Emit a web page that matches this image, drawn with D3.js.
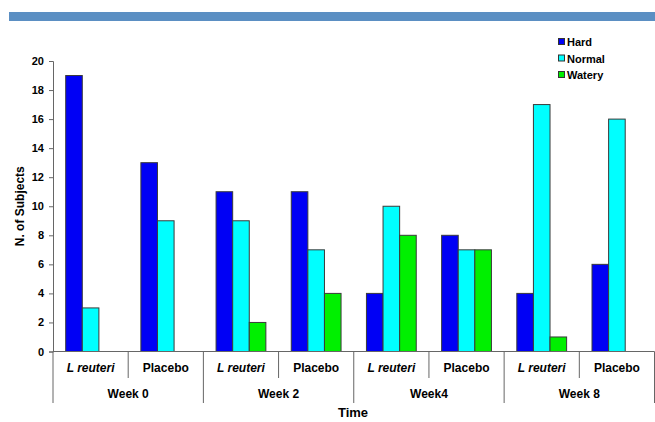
<!DOCTYPE html>
<html>
<head>
<meta charset="utf-8">
<script src="https://cdn.jsdelivr.net/npm/d3@7"></script>
<style>
  html, body { margin: 0; padding: 0; background: #fff; }
  svg { display: block; font-family: "Liberation Sans", Arial, sans-serif; }
</style>
</head>
<body>
<svg id="chart" width="655" height="422"></svg>
<script>
// Stool consistency counts per treatment arm and visit
const weeks = ["Week 0", "Week 2", "Week4", "Week 8"];
const arms = ["L reuteri", "Placebo"];
const series = ["Hard", "Normal", "Watery"];
const colors = ["#0000f5", "#00ffff", "#00f000"];

// One row per (week, arm) in order, values in series order
const hard   = [19, 13, 11, 11, 4, 8, 4, 6];
const normal = [3, 9, 9, 7, 10, 7, 17, 16];
const watery = [0, 0, 2, 4, 8, 7, 1, 0];
const yTicks = [0, 2, 4, 6, 8, 10, 12, 14, 16, 18, 20];

const categories = [];
weeks.forEach(w => arms.forEach(a => categories.push({ week: w, arm: a, key: w + "|" + a })));
const rows = categories.map((c, i) => ({ ...c, values: [hard[i], normal[i], watery[i]] }));

const svg = d3.select("#chart");

// Header band
svg.append("rect").attr("x", 9).attr("y", 12).attr("width", 646).attr("height", 9)
  .attr("fill", "#5b8fc3");

const plotLeft = 53, plotRight = 654.5, plotTop = 61, plotBottom = 351.5;

const x = d3.scaleBand().domain(categories.map(c => c.key)).range([plotLeft, plotRight]).paddingInner(0).paddingOuter(0);
const xs = d3.scaleBand().domain(series).range([0, x.bandwidth()]).paddingInner(0).paddingOuter(0.765);
const y = d3.scaleLinear().domain([0, 20]).range([plotBottom, plotTop]);

// Bars
const g = svg.append("g");
rows.forEach(r => {
  const grp = g.append("g").attr("transform", `translate(${x(r.key)},0)`);
  grp.selectAll("rect")
    .data(r.values.map((v, i) => ({ v, s: series[i], c: colors[i] })).filter(d => d.v > 0))
    .join("rect")
    .attr("x", d => xs(d.s))
    .attr("y", d => y(d.v))
    .attr("width", xs.bandwidth())
    .attr("height", d => y(0) - y(d.v))
    .attr("fill", d => d.c)
    .attr("stroke", "#3a3a3a")
    .attr("stroke-width", 1);
});

// Y axis
const yAxis = d3.axisLeft(y).tickValues(yTicks).tickSize(4).tickPadding(5);
const ya = svg.append("g").attr("transform", `translate(${plotLeft},0)`).call(yAxis);
ya.select(".domain").attr("stroke", "#666");
ya.selectAll(".tick line").attr("stroke", "#666");
ya.selectAll(".tick text").attr("font-size", 11).attr("font-weight", "bold").attr("fill", "#000")
  .attr("font-family", "Liberation Sans, Arial, sans-serif");

svg.append("text")
  .attr("transform", `translate(24,${(plotTop + plotBottom) / 2}) rotate(-90)`)
  .attr("text-anchor", "middle")
  .attr("font-size", 12).attr("font-weight", "bold")
  .text("N. of Subjects");

// X axis line
svg.append("line").attr("x1", plotLeft).attr("x2", plotRight).attr("y1", plotBottom).attr("y2", plotBottom)
  .attr("stroke", "#666");

// Category separators: short between arms, long between weeks
categories.forEach((c, i) => {
  const xp = x(c.key);
  const longLine = i % 2 === 0;
  svg.append("line").attr("x1", xp).attr("x2", xp)
    .attr("y1", plotBottom).attr("y2", longLine ? 403 : 378)
    .attr("stroke", "#666");
});
svg.append("line").attr("x1", plotRight).attr("x2", plotRight).attr("y1", plotBottom).attr("y2", 403).attr("stroke", "#666");

// Arm labels
categories.forEach(c => {
  svg.append("text")
    .attr("x", x(c.key) + x.bandwidth() / 2)
    .attr("y", 372)
    .attr("text-anchor", "middle")
    .attr("font-size", 12).attr("font-weight", "bold")
    .attr("font-style", c.arm === "L reuteri" ? "italic" : "normal")
    .text(c.arm);
});

// Week labels
weeks.forEach(w => {
  const x0 = x(w + "|" + arms[0]);
  svg.append("text")
    .attr("x", x0 + x.bandwidth())
    .attr("y", 398)
    .attr("text-anchor", "middle")
    .attr("font-size", 12).attr("font-weight", "bold")
    .text(w);
});

// Axis title
svg.append("text").attr("x", 353).attr("y", 417).attr("text-anchor", "middle")
  .attr("font-size", 13).attr("font-weight", "bold").text("Time");

// Legend
const lg = svg.append("g");
series.forEach((s, i) => {
  const yy = 42 + i * 16.5;
  lg.append("rect").attr("x", 558.5).attr("y", yy - 3.5).attr("width", 6).attr("height", 6)
    .attr("fill", colors[i]).attr("stroke", "#333").attr("stroke-width", 1);
  lg.append("text").attr("x", 567).attr("y", yy + 4)
    .attr("font-size", 11).attr("font-weight", "bold").text(s);
});
</script>
</body>
</html>
